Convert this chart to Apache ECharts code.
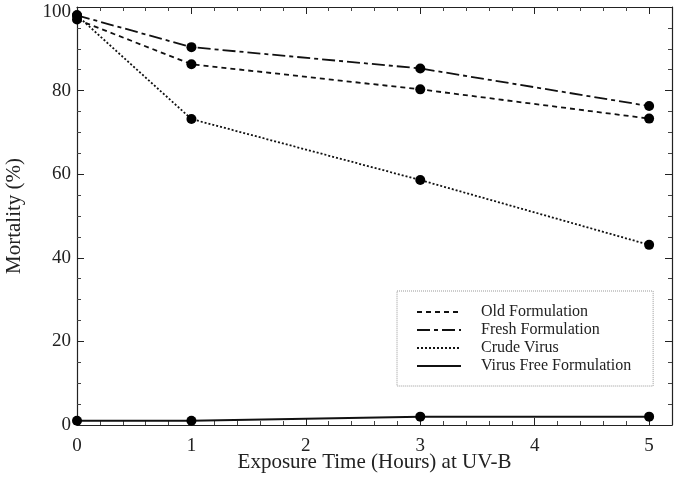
<!DOCTYPE html>
<html>
<head>
<meta charset="utf-8">
<script src="https://cdn.jsdelivr.net/npm/echarts@6/dist/echarts.min.js"></script>
<style>
  html, body { margin: 0; padding: 0; background: #fff; }
  #chart { width: 685px; height: 493px; }
</style>
</head>
<body>
<div id="chart"></div>
<script>
// exposure time (hours) at UV-B
const hours = [0, 1, 3, 5];
const oldFormulation = [97, 86.3, 80.3, 73.3];
const freshFormulation = [98, 90.4, 85.3, 76.3];
const crudeVirus = [98, 73.2, 58.6, 43.1];
const virusFree = [1, 1, 2, 2];

const seriesNames = ['Old Formulation', 'Fresh Formulation', 'Crude Virus', 'Virus Free Formulation'];

const font = '"Liberation Serif", "DejaVu Serif", serif';

function pairs(vals) {
    return hours.map((h, i) => [h, vals[i]]);
}

function makeSeries(name, vals, dash, width) {
    return {
        name: name,
        type: 'line',
        data: pairs(vals),
        symbol: 'circle',
        symbolSize: 10,
        itemStyle: { color: '#000' },
        lineStyle: { color: '#111', width: width, type: dash },
        emphasis: { disabled: true },
        z: 3
    };
}

const chart = echarts.init(document.getElementById('chart'));

const axisLine = { show: true, onZero: false, lineStyle: { color: '#222', width: 1.2 } };
const axisTick = { show: true, inside: true, length: 7, lineStyle: { color: '#222' } };
const minorTick = { show: true, length: 4, lineStyle: { color: '#444' } };

chart.setOption({
    animation: false,
    grid: { left: 77, right: 13, top: 7, bottom: 68, containLabel: false, outerBoundsMode: 'none' },
    legend: {
        data: seriesNames,
        orient: 'vertical',
        left: 397,
        top: 291,
        padding: [13, 22, 12, 19],
        itemGap: 2,
        itemWidth: 44,
        itemHeight: 14,
        borderColor: '#999',
        borderWidth: 1,
        borderType: 'dotted',
        itemStyle: { opacity: 0 },
        textStyle: { fontFamily: font, fontSize: 16, color: '#222', padding: [0, 0, 0, 15] },
        selectedMode: false
    },
    xAxis: [{
        type: 'value',
        min: 0,
        max: 5.2,
        interval: 1,
        position: 'bottom',
        name: 'Exposure Time (Hours) at UV-B',
        nameLocation: 'middle',
        nameGap: 27,
        nameMoveOverlap: false,
        nameTextStyle: { fontFamily: font, fontSize: 21, color: '#222' },
        axisLabel: {
            fontFamily: font, fontSize: 19, color: '#222', margin: 12,
            formatter: v => (Number.isInteger(v) ? String(v) : '')
        },
        minorTick: Object.assign({ splitNumber: 5 }, minorTick),
        axisLine: axisLine,
        axisTick: axisTick,
        splitLine: { show: false }
    }, {
        type: 'value',
        min: 0,
        max: 5.2,
        interval: 1,
        position: 'top',
        axisLabel: { show: false },
        minorTick: Object.assign({ splitNumber: 5 }, minorTick),
        axisLine: axisLine,
        axisTick: axisTick,
        splitLine: { show: false }
    }],
    yAxis: [{
        type: 'value',
        min: 0,
        max: 100,
        interval: 20,
        position: 'left',
        name: 'Mortality (%)',
        nameLocation: 'middle',
        nameGap: 52,
        nameRotate: 90,
        nameTextStyle: { fontFamily: font, fontSize: 21, color: '#222' },
        axisLabel: {
            fontFamily: font, fontSize: 19, color: '#222', margin: 6,
            formatter: v => (v === 100 ? '{top|100}' : String(v)),
            rich: { top: { fontFamily: font, fontSize: 19, color: '#222', padding: [11, 0, 0, 0] } }
        },
        minorTick: Object.assign({ splitNumber: 4 }, minorTick),
        axisLine: axisLine,
        axisTick: axisTick,
        splitLine: { show: false }
    }, {
        type: 'value',
        min: 0,
        max: 100,
        interval: 20,
        position: 'right',
        axisLabel: { show: false },
        minorTick: Object.assign({ splitNumber: 4 }, minorTick),
        axisLine: axisLine,
        axisTick: axisTick,
        splitLine: { show: false }
    }],
    series: [
        makeSeries(seriesNames[0], oldFormulation, [5, 4], 1.8),
        makeSeries(seriesNames[1], freshFormulation, [13, 4, 4, 4], 1.8),
        makeSeries(seriesNames[2], crudeVirus, [2, 2], 1.8),
        makeSeries(seriesNames[3], virusFree, 'solid', 2)
    ]
});
</script>
</body>
</html>
